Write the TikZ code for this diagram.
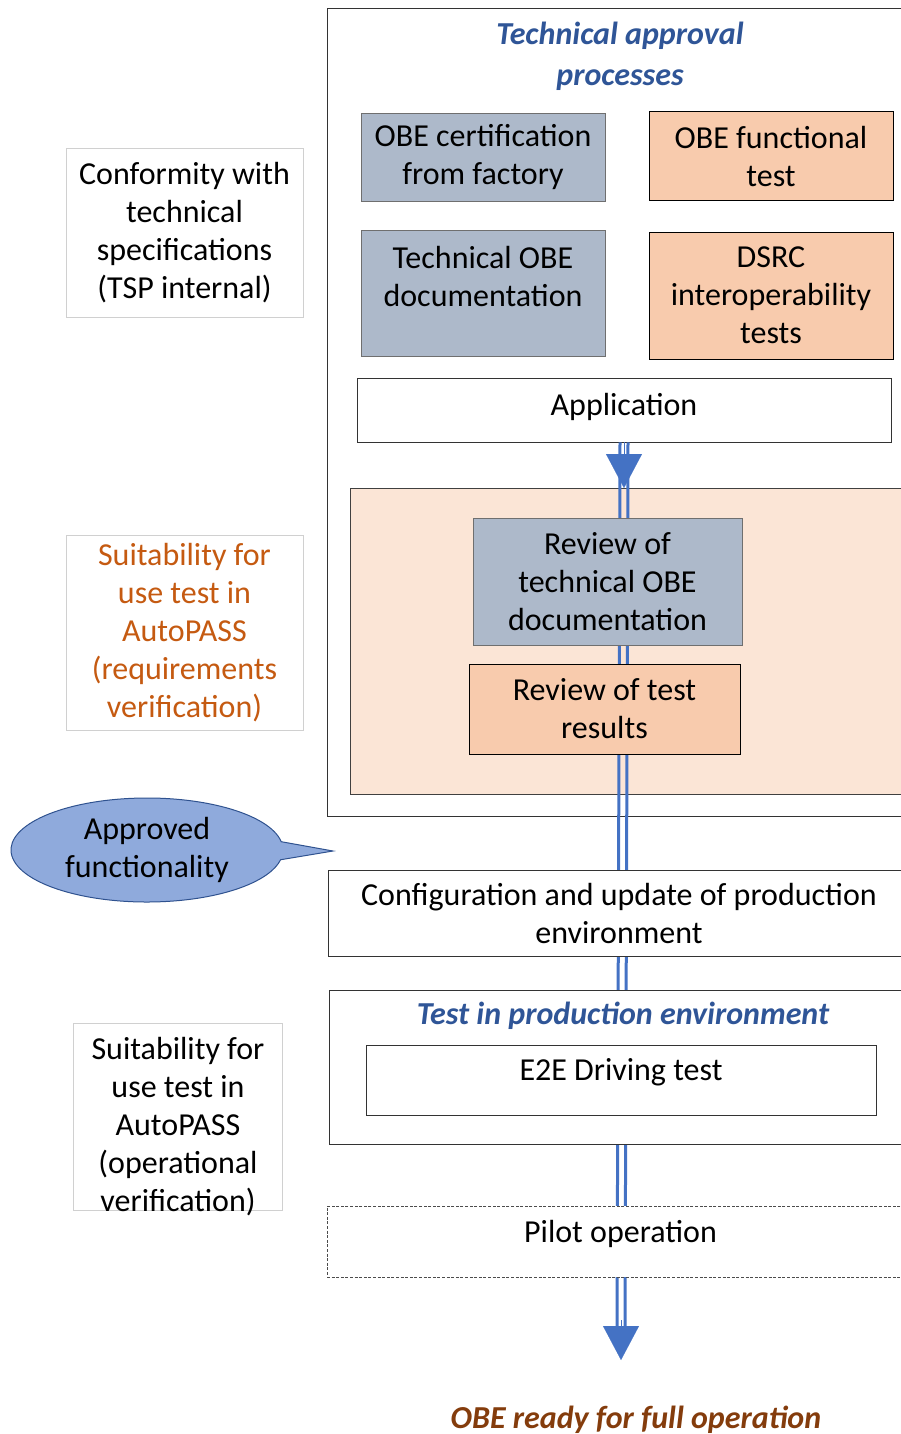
\documentclass[tikz,border=0pt]{standalone}
\usepackage{fontspec}
\setmainfont{Carlito}
\usetikzlibrary{arrows.meta,shapes.callouts}
\definecolor{gbfill}{HTML}{ADB9CA}
\definecolor{gbdraw}{HTML}{6F6F6F}
\definecolor{pfill}{HTML}{F8CBAD}
\definecolor{lpfill}{HTML}{FBE5D6}
\definecolor{titleblue}{HTML}{2F5597}
\definecolor{orangetxt}{HTML}{C55A11}
\definecolor{browntxt}{HTML}{843C0C}
\definecolor{arrowblue}{HTML}{4472C4}
\definecolor{callfill}{HTML}{8FAADC}
\definecolor{calldraw}{HTML}{2F528F}
\definecolor{leftdraw}{HTML}{D0D0D0}
\begin{document}
\begin{tikzpicture}[x=1pt,y=-1pt,
  every node/.style={font=\fontsize{32}{38}\selectfont, align=center, inner sep=0pt},
  gbox/.style={draw=gbdraw, fill=gbfill, line width=0.9pt},
  pbox/.style={draw=black, fill=pfill, line width=1pt},
  wbox/.style={draw=black!80, fill=white, line width=0.9pt},
  leftbox/.style={draw=leftdraw, fill=white, line width=0.8pt},
  txt/.style={},
  ttl/.style={font=\fontsize{32}{41}\selectfont\bfseries\itshape, text=titleblue},
  bline/.style={draw=arrowblue, line width=3pt},
  bhead/.style={draw=arrowblue, line width=0.1pt, -{Triangle[width=36pt,length=34pt]}}
]
\useasboundingbox (0,0) rectangle (901,1434);

% outer containers
\node[wbox, anchor=north west, minimum width=586pt, minimum height=808pt] (tap) at (327,8) {};
\node[draw=black!75, fill=lpfill, line width=0.9pt, anchor=north west, minimum width=563pt, minimum height=306pt] (rarea) at (350,488) {};

% node shells that the spine runs between
\node[wbox, minimum width=534pt, minimum height=64pt] (app) at (624,410) {};
\coordinate (endp) at (621,1360);

% double spine
\draw[bline] ([xshift=-4pt]app.south) -- ([xshift=-4pt,yshift=30pt]endp);
\draw[bline] ([xshift=4pt]app.south) -- ([xshift=4pt,yshift=30pt]endp);
\draw[bhead] (app.south) -- (app.south |- rarea.north);
\draw[bhead] ([yshift=40pt]endp) -- (endp);

% title
\node[ttl] (ttitle) at (620,56) {Technical approval\\processes};

% top boxes
\node[gbox, minimum width=244pt, minimum height=88pt] (cert) at (483,157) {OBE certification\\from factory};
\node[pbox, minimum width=244pt, minimum height=89pt] (func) at (771,156.5) {OBE functional\\test};
\node[gbox, minimum width=244pt, minimum height=126pt] (tdoc) at (483,293) {};
\node[txt] (tdoct) at (483,277) {Technical OBE\\documentation};
\node[pbox, minimum width=244pt, minimum height=127pt] (dsrc) at (771,295.5) {DSRC\\interoperability\\tests};
\node[txt] (appt) at (624,407) {Application};

% review boxes
\node[gbox, minimum width=269pt, minimum height=127pt] (rev1) at (607.5,581.5) {Review of\\technical OBE\\documentation};
\node[pbox, minimum width=271pt, minimum height=90pt] (rev2) at (604.5,709) {Review of test\\results};

% lower boxes
\node[wbox, minimum width=582pt, minimum height=86pt] (cfg) at (619,913) {Configuration and update of production\\environment};
\node[wbox, minimum width=584pt, minimum height=154pt] (test) at (621,1067) {};
\node[ttl] (testt) at (623,1016) {Test in production environment};
\node[wbox, minimum width=510pt, minimum height=70pt] (e2e) at (621,1080) {};
\node[txt] (e2et) at (621,1072) {E2E Driving test};
\node[draw=black!70, dash pattern=on 3pt off 1.6pt, fill=white, line width=0.8pt, minimum width=587pt, minimum height=71pt] (pilot) at (620.5,1241.5) {};
\node[txt] (pilott) at (620.5,1234) {Pilot operation};

% final text
\node[font=\fontsize{32}{38}\selectfont\bfseries\itshape, text=browntxt] (ready) at (636,1420) {OBE ready for full operation};

% left column
\node[leftbox, minimum width=237pt, minimum height=169pt] (conf) at (184.5,232.5) {Conformity with\\technical\\specifications\\(TSP internal)};
\node[leftbox, minimum width=237pt, minimum height=195pt, text=orangetxt] (suitr) at (184.5,632.5) {Suitability for\\use test in\\AutoPASS\\(requirements\\verification)};
\node[leftbox, minimum width=209pt, minimum height=187pt] (suito) at (177.5,1116.5) {};
\node[txt] (suitot) at (178,1127) {Suitability for\\use test in\\AutoPASS\\(operational\\verification)};

% callout
\node[ellipse callout, draw=calldraw, fill=callfill, line width=1pt, minimum width=272pt, minimum height=104pt, callout absolute pointer={(333,851)}, callout pointer arc=20] (approved) at (147,850) {Approved\\functionality};
\end{tikzpicture}
\end{document}
